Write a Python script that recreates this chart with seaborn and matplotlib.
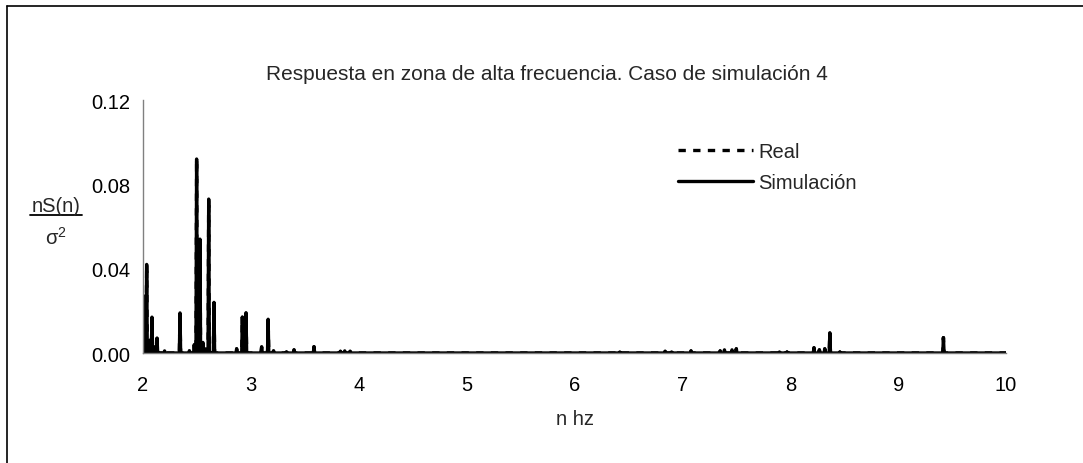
import numpy as np
import pandas as pd
import matplotlib
matplotlib.use("Agg")
import matplotlib.pyplot as plt
import seaborn as sns
from matplotlib.lines import Line2D

# ---- data ----
peak_freq = [2.020, 2.034, 2.050, 2.063, 2.083, 2.100, 2.130, 2.200, 2.343, 2.430,
             2.475, 2.497, 2.528, 2.555, 2.575, 2.609, 2.658, 2.868, 2.921, 2.955,
             3.100, 3.160, 3.210, 3.330, 3.400, 3.585, 3.830, 3.870, 3.920, 6.420,
             6.840, 6.900, 7.080, 7.350, 7.390, 7.460, 7.500, 7.900, 7.970, 8.220,
             8.270, 8.320, 8.367, 8.460, 9.420]
sim_values = [0.027, 0.042, 0.005, 0.006, 0.017, 0.003, 0.007, 0.001, 0.019, 0.001,
              0.004, 0.092, 0.054, 0.005, 0.002, 0.073, 0.024, 0.002, 0.017, 0.019,
              0.003, 0.016, 0.001, 0.0005, 0.0015, 0.003, 0.0008, 0.001, 0.0008, 0.0005,
              0.0008, 0.0005, 0.001, 0.001, 0.0015, 0.0015, 0.002, 0.0005, 0.0005, 0.0025,
              0.0015, 0.002, 0.0095, 0.0005, 0.0073]
real_values = sim_values  # hidden beneath the simulated series
x_ticks = [2, 3, 4, 5, 6, 7, 8, 9, 10]
y_ticks = [0.00, 0.04, 0.08, 0.12]
title = "Respuesta en zona de alta frecuencia. Caso de simulación 4"
series_names = ["Real", "Simulación"]

# build narrow spike series
def spikes(freqs, vals, w=0.006):
    xs, ys = [2.0], [0.0]
    for f, v in zip(freqs, vals):
        xs += [f - w, f, f + w]
        ys += [0.0, v, 0.0]
    xs.append(10.0); ys.append(0.0)
    return xs, ys

xr, yr = spikes(peak_freq, real_values)
xs_, ys_ = spikes(peak_freq, sim_values)
df_real = pd.DataFrame({"n": xr, "v": yr})
df_sim = pd.DataFrame({"n": xs_, "v": ys_})

sns.set_style("white")
plt.rcParams['font.family'] = ['Liberation Sans', 'DejaVu Sans']
FS = 14.5

fig = plt.figure(figsize=(10.83, 4.64), dpi=100)
ax = fig.add_axes([143/1083, 1-354/464, (1006-143)/1083, (354-101)/464])

sns.lineplot(data=df_real, x="n", y="v", ax=ax, color="black", lw=2.4,
             linestyle=(0, (2.2, 2.2)), estimator=None, sort=False, label=series_names[0])
sns.lineplot(data=df_sim, x="n", y="v", ax=ax, color="black", lw=2.4,
             estimator=None, sort=False, label=series_names[1])

ax.set_xlim(2, 10)
ax.set_ylim(0, 0.12)
ax.set_xticks(x_ticks)
ax.set_xticklabels([str(t) for t in x_ticks])
ax.set_yticks(y_ticks)
ax.set_yticklabels([f"{t:.2f}" for t in y_ticks])
for s in ["top", "right"]:
    ax.spines[s].set_visible(False)
for s in ["left", "bottom"]:
    ax.spines[s].set_color("#808080")
    ax.spines[s].set_linewidth(1.0)
ax.tick_params(axis="both", direction="out", length=5, width=1, color="#808080",
               labelsize=FS, labelcolor="black")
ax.tick_params(axis="x", pad=11)
ax.tick_params(axis="y", pad=4)
ax.set_xlabel("")
ax.set_ylabel("")

ax_h = (354-101)/464
leg = ax.legend(loc="upper left",
                bbox_to_anchor=((670-143)/863, ((1-135/464) - (1-354/464)) / ax_h),
                frameon=False, fontsize=FS, handlelength=3.7, handletextpad=0.3,
                labelspacing=0.6, borderaxespad=0)

fig.text(547/1083, 1-74/464, title, ha="center", va="center", fontsize=FS + 0.5)
fig.text(575/1083, 1-420/464, "n hz", ha="center", va="center", fontsize=FS)
fig.text(56/1083, 1-206/464, "nS(n)", ha="center", va="center", fontsize=FS)
fig.add_artist(Line2D([30/1083, 82/1083], [1-216/464, 1-216/464], color="black", lw=1.3,
                      transform=fig.transFigure))
fig.text(56/1083, 1-238/464, r"σ$^\mathregular{2}$", ha="center", va="center", fontsize=FS)

# outer frame (top and left edges visible)
fig.add_artist(Line2D([7/1083, 1.0], [1-7/464, 1-7/464], color="black", lw=1.2,
                      transform=fig.transFigure))
fig.add_artist(Line2D([7/1083, 7/1083], [0.0, 1-7/464], color="black", lw=1.2,
                      transform=fig.transFigure))

fig.savefig("out.png", dpi=100)
